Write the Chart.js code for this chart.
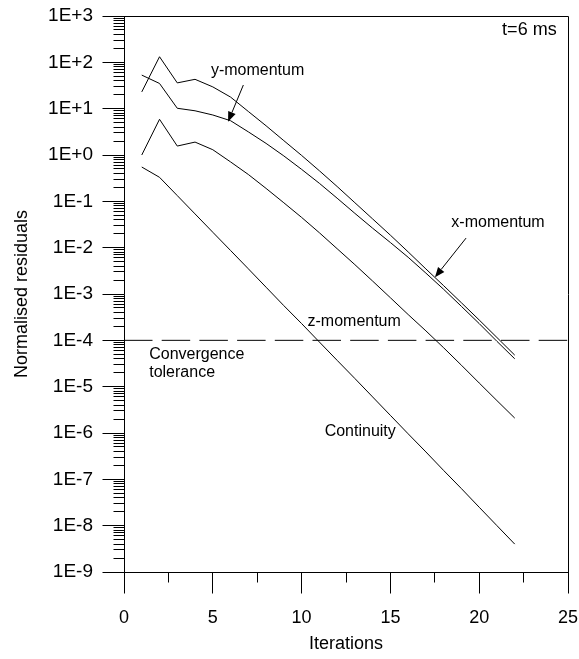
<!DOCTYPE html>
<html>
<head>
<meta charset="utf-8">
<title>Normalised residuals</title>
<script src="https://cdn.jsdelivr.net/npm/chart.js@4.4.1/dist/chart.umd.min.js"></script>
<style>
  html, body { margin: 0; padding: 0; background: #fff; }
  #wrap { width: 579px; height: 659px; }
</style>
</head>
<body>
<div id="wrap"><canvas id="myChart" width="579" height="659"></canvas></div>
<script>
// iteration numbers and residuals
var iterations = [1, 2, 3, 4, 5, 6, 7, 8, 9, 10, 11, 12, 13, 14, 15, 16, 17, 18, 19, 20, 21, 22];

var yMomentum = [23, 132, 36, 43, 29.5, 17.8, 8.7, 4.27, 2.04, 0.98, 0.457, 0.209, 0.0933,
  0.0417, 0.0186, 8.1e-3, 3.47e-3, 1.51e-3, 6.46e-4, 2.75e-4, 1.15e-4, 4.8e-5];

var xMomentum = [53, 35, 10.2, 9.0, 7.3, 5.5, 3.16, 1.78, 0.955, 0.49, 0.245, 0.117, 0.055,
  0.0263, 0.0129, 6.2e-3, 2.82e-3, 1.26e-3, 5.4e-4, 2.3e-4, 9.5e-5, 4.0e-5];

var zMomentum = [1.0, 5.9, 1.56, 1.9, 1.3, 0.71, 0.38, 0.19, 0.093, 0.045, 0.021, 9.5e-3, 4.3e-3,
  1.9e-3, 8.3e-4, 3.6e-4, 1.6e-4, 6.9e-5, 2.9e-5, 1.2e-5, 5.0e-6, 2.1e-6];

var continuity = [0.55, 0.33, 0.133, 0.0535, 0.0215, 8.7e-3, 3.5e-3, 1.4e-3, 5.6e-4, 2.3e-4,
  9.2e-5, 3.7e-5, 1.5e-5, 6.0e-6, 2.4e-6, 9.6e-7, 3.9e-7, 1.55e-7, 6.3e-8, 2.5e-8, 1.0e-8, 4.0e-9];

var tolerance = 1e-4;

var xTicks = [0, 5, 10, 15, 20, 25];
var yTicks = [1e-9, 1e-8, 1e-7, 1e-6, 1e-5, 1e-4, 1e-3, 1e-2, 1e-1, 1e0, 1e1, 1e2, 1e3];

var FONT = "'Liberation Sans', Arial, Helvetica, sans-serif";

// text notes and arrows, placed in data units
var notes = [
  { text: 't=6 ms', x: 24.36, y: 489, align: 'right', size: 18 },
  { text: 'y-momentum', x: 7.52, y: 65, align: 'center', size: 16 },
  { text: 'x-momentum', x: 21.06, y: 0.0345, align: 'center', size: 16 },
  { text: 'z-momentum', x: 12.96, y: 2.6e-4, align: 'center', size: 16 },
  { text: 'Convergence', x: 1.42, y: 4.97e-5, align: 'left', size: 16 },
  { text: 'tolerance', x: 1.42, y: 2.0e-5, align: 'left', size: 16 },
  { text: 'Continuity', x: 13.3, y: 1.06e-6, align: 'center', size: 16 }
];
var arrows = [
  { from: [6.72, 32.4], to: [5.86, 5.2] },
  { from: [19.26, 0.0161], to: [17.51, 2.3e-3] }
];

function toSeries(values) {
  return values.map(function(v, i) { return { x: iterations[i], y: v }; });
}

function lineSet(label, points, dash) {
  return {
    label: label,
    data: points,
    borderColor: '#000',
    borderWidth: 1,
    borderDash: dash || [],
    pointRadius: 0,
    fill: false,
    tension: 0
  };
}

function expLabel(value) {
  var e = Math.round(Math.log10(value));
  return '1E' + (e < 0 ? '-' : '+') + Math.abs(e);
}

function px(v) { return Math.round(v - 0.5) + 0.5; }

var extras = {
  id: 'extras',
  afterDraw: function(chart) {
    var ctx = chart.ctx, xs = chart.scales.x, ys = chart.scales.y, a = chart.chartArea;
    var L = px(a.left), B = px(a.bottom);
    ctx.save();
    ctx.strokeStyle = '#000';
    ctx.fillStyle = '#000';
    ctx.lineWidth = 1;

    // top and right edges of the box
    ctx.beginPath();
    ctx.moveTo(L, px(a.top));
    ctx.lineTo(px(a.right), px(a.top));
    ctx.lineTo(px(a.right), B);
    ctx.stroke();

    // ticks: long ones at labels, short ones between
    ctx.beginPath();
    yTicks.forEach(function(v) {
      var yy = px(ys.getPixelForValue(v));
      ctx.moveTo(L - 22, yy);
      ctx.lineTo(L, yy);
    });
    for (var d = -9; d < 3; d++) {
      for (var m = 2; m <= 9; m++) {
        var yy = px(ys.getPixelForValue(m * Math.pow(10, d)));
        ctx.moveTo(L - 11, yy);
        ctx.lineTo(L, yy);
      }
    }
    xTicks.forEach(function(v, k) {
      var xx = px(xs.getPixelForValue(v));
      ctx.moveTo(xx, B);
      ctx.lineTo(xx, B + 21);
      if (k < xTicks.length - 1) {
        var xm = px(xs.getPixelForValue((v + xTicks[k + 1]) / 2));
        ctx.moveTo(xm, B);
        ctx.lineTo(xm, B + 10);
      }
    });
    ctx.stroke();

    // tick labels
    ctx.textBaseline = 'middle';
    ctx.font = '19px ' + FONT;
    ctx.textAlign = 'right';
    yTicks.forEach(function(v) {
      ctx.fillText(expLabel(v), a.left - 31, ys.getPixelForValue(v));
    });
    ctx.font = '18px ' + FONT;
    ctx.textAlign = 'center';
    xTicks.forEach(function(v) {
      ctx.fillText(String(v), xs.getPixelForValue(v), a.bottom + 46);
    });

    // notes
    notes.forEach(function(n) {
      ctx.font = n.size + 'px ' + FONT;
      ctx.textAlign = n.align;
      ctx.fillText(n.text, xs.getPixelForValue(n.x), ys.getPixelForValue(n.y));
    });

    // arrows
    arrows.forEach(function(ar) {
      var x1 = xs.getPixelForValue(ar.from[0]), y1 = ys.getPixelForValue(ar.from[1]);
      var x2 = xs.getPixelForValue(ar.to[0]), y2 = ys.getPixelForValue(ar.to[1]);
      var ang = Math.atan2(y2 - y1, x2 - x1);
      var hl = 10, hw = 4;
      var bx = x2 - hl * Math.cos(ang), by = y2 - hl * Math.sin(ang);
      ctx.beginPath();
      ctx.moveTo(x1, y1);
      ctx.lineTo(bx, by);
      ctx.stroke();
      ctx.beginPath();
      ctx.moveTo(x2, y2);
      ctx.lineTo(bx + hw * Math.sin(ang), by - hw * Math.cos(ang));
      ctx.lineTo(bx - hw * Math.sin(ang), by + hw * Math.cos(ang));
      ctx.closePath();
      ctx.fill();
    });
    ctx.restore();
  }
};

var ctx = document.getElementById('myChart').getContext('2d');
var chart = new Chart(ctx, {
  type: 'line',
  data: {
    datasets: [
      lineSet('y-momentum', toSeries(yMomentum)),
      lineSet('x-momentum', toSeries(xMomentum)),
      lineSet('z-momentum', toSeries(zMomentum)),
      lineSet('Continuity', toSeries(continuity)),
      lineSet('Convergence tolerance', [{ x: xTicks[0], y: tolerance }, { x: xTicks[xTicks.length - 1], y: tolerance }], [28.5, 9.2])
    ]
  },
  options: {
    responsive: false,
    animation: false,
    layout: { padding: { left: 0, top: 16, right: 11, bottom: 0 } },
    plugins: {
      legend: { display: false },
      tooltip: { enabled: false }
    },
    scales: {
      x: {
        type: 'linear',
        min: 0,
        max: 25,
        afterBuildTicks: function(s) { s.ticks = xTicks.map(function(v) { return { value: v }; }); },
        afterFit: function(s) { s.height = 87; s.paddingLeft = 0; s.paddingRight = 0; },
        grid: { display: false, drawTicks: false },
        border: { display: true, color: '#000', width: 1 },
        ticks: { display: false },
        title: { display: true, text: 'Iterations', color: '#000', font: { family: FONT, size: 18 }, padding: { top: 0, bottom: 4 } }
      },
      y: {
        type: 'logarithmic',
        min: 1e-9,
        max: 1e3,
        afterBuildTicks: function(s) { s.ticks = yTicks.map(function(v) { return { value: v }; }); },
        afterFit: function(s) { s.width = 124; s.paddingTop = 0; s.paddingBottom = 0; },
        grid: { display: false, drawTicks: false },
        border: { display: true, color: '#000', width: 1 },
        ticks: { display: false },
        title: { display: true, text: 'Normalised residuals', color: '#000', font: { family: FONT, size: 18 }, padding: { top: 11, bottom: 0 } }
      }
    }
  },
  plugins: [extras]
});
</script>
</body>
</html>
